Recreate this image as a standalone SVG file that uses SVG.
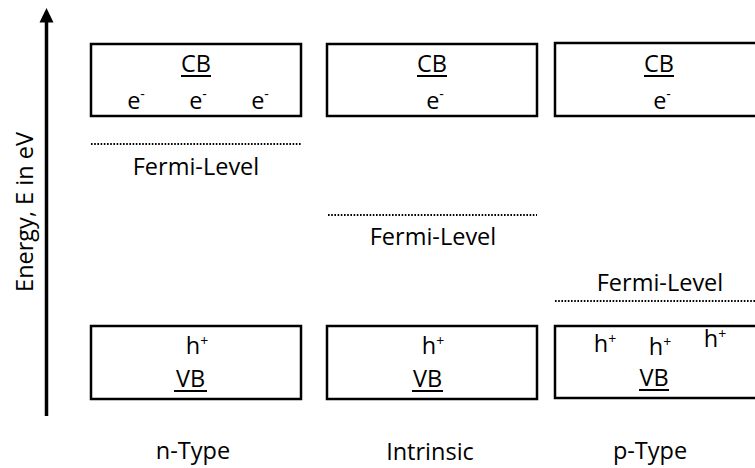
<svg xmlns="http://www.w3.org/2000/svg" width="755" height="468" viewBox="0 0 755 468">
  <style>
    text { font-family: "Open Sans", "Liberation Sans", sans-serif; font-size: 23.5px; fill: #000; text-anchor: middle; }
    .sup { font-size: 14px; }
    .band { fill: #fff; stroke: #000; stroke-width: 2.5; }
    .ul { stroke: #000; stroke-width: 2; }
    .fermi { stroke: #000; stroke-width: 2; stroke-dasharray: 1.6 1.6; fill: none; }
    .axis { stroke: #000; stroke-width: 3.5; }
  </style>
  <rect width="755" height="468" fill="#fff"/>

  <!-- energy axis -->
  <g id="axis">
    <line class="axis" x1="46.5" y1="416" x2="46.5" y2="20"/>
    <polygon points="46.5,8 39.5,22.5 53.5,22.5" fill="#000"/>
    <text transform="translate(33,212) rotate(-90)">Energy, E in eV</text>
  </g>

  <!-- n-type -->
  <g id="n-cb">
    <rect class="band" x="91" y="44" width="210" height="72"/>
    <text x="196" y="72">CB</text>
    <line class="ul" x1="181" y1="76" x2="211" y2="76"/>
    <text x="136" y="109">e<tspan class="sup" dy="-10">-</tspan></text>
    <text x="198" y="109">e<tspan class="sup" dy="-10">-</tspan></text>
    <text x="260" y="109">e<tspan class="sup" dy="-10">-</tspan></text>
  </g>
  <g id="n-fermi">
    <text x="196" y="175">Fermi-Level</text>
  </g>
  <g id="n-vb">
    <rect class="band" x="91" y="326" width="210" height="73"/>
    <text x="197" y="354">h<tspan class="sup" dy="-8">+</tspan></text>
    <text x="190.5" y="387">VB</text>
    <line class="ul" x1="174" y1="391" x2="207" y2="391"/>
  </g>
  <g id="n-label"><text x="193" y="459">n-Type</text></g>

  <!-- intrinsic -->
  <g id="i-cb">
    <rect class="band" x="327" y="44" width="210" height="72"/>
    <text x="432" y="72">CB</text>
    <line class="ul" x1="417" y1="76" x2="447" y2="76"/>
    <text x="435" y="109">e<tspan class="sup" dy="-10">-</tspan></text>
  </g>
  <g id="i-fermi">
    <text x="433" y="245">Fermi-Level</text>
  </g>
  <g id="i-vb">
    <rect class="band" x="327" y="326" width="210" height="73"/>
    <text x="433" y="354">h<tspan class="sup" dy="-8">+</tspan></text>
    <text x="427.5" y="387">VB</text>
    <line class="ul" x1="412" y1="391" x2="443" y2="391"/>
  </g>
  <g id="i-label"><text x="430" y="460">Intrinsic</text></g>

  <!-- p-type -->
  <g id="p-cb">
    <rect class="band" x="555" y="43" width="212" height="73"/>
    <text x="659" y="72">CB</text>
    <line class="ul" x1="644" y1="76" x2="674" y2="76"/>
    <text x="662" y="109">e<tspan class="sup" dy="-10">-</tspan></text>
  </g>
  <g id="p-fermi">
    <text x="660" y="291">Fermi-Level</text>
  </g>
  <g id="p-vb">
    <rect class="band" x="555" y="326" width="212" height="72"/>
    <text x="605" y="352">h<tspan class="sup" dy="-8">+</tspan></text>
    <text x="660" y="355">h<tspan class="sup" dy="-8">+</tspan></text>
    <text x="715" y="347">h<tspan class="sup" dy="-8">+</tspan></text>
    <text x="654" y="386">VB</text>
    <line class="ul" x1="639" y1="390" x2="669" y2="390"/>
  </g>
  <g id="p-label"><text x="650" y="459">p-Type</text></g>

  <!-- Fermi level lines -->
  <g id="connectors">
    <line class="fermi" x1="91" y1="144" x2="301" y2="144"/>
    <line class="fermi" x1="328" y1="215" x2="537" y2="215"/>
    <line class="fermi" x1="555" y1="301" x2="755" y2="301"/>
  </g>
</svg>
